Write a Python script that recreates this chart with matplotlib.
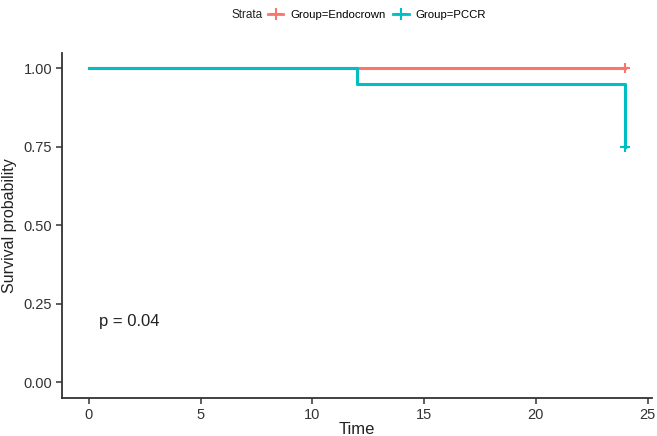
import matplotlib
matplotlib.use("Agg")
import matplotlib.pyplot as plt
from matplotlib.lines import Line2D

plt.rcParams['font.family'] = ['Liberation Sans', 'DejaVu Sans']

# Data
groups = ["Group=Endocrown", "Group=PCCR"]
endo_time = [0, 24]
endo_surv = [1.0, 1.0]
pccr_time = [0, 12, 24]
pccr_surv = [1.0, 0.95, 0.75]
censor_endo_time = [24]
censor_endo_surv = [1.0]
censor_pccr_time = [24]
censor_pccr_surv = [0.75]
xticks = [0, 5, 10, 15, 20, 25]
yticks = [0.00, 0.25, 0.50, 0.75, 1.00]
ytick_labels = ["0.00", "0.25", "0.50", "0.75", "1.00"]
p_text = "p = 0.04"

red = "#F8766D"
cyan = "#00BFC4"

fig = plt.figure(figsize=(6.57, 4.36), dpi=100)
ax = fig.add_axes([0.0944, 0.0872, 0.898, 0.792])

ax.step(endo_time, endo_surv, where='post', color=red, lw=2.2, zorder=2)
ax.step(pccr_time, pccr_surv, where='post', color=cyan, lw=2.2, zorder=3)
ax.plot(censor_endo_time, censor_endo_surv, ls='none', marker='+', ms=7, mew=1.5, color=red, zorder=4)
ax.plot(censor_pccr_time, censor_pccr_surv, ls='none', marker='+', ms=7, mew=1.5, color=cyan, zorder=4)

ax.set_xlim(-1.2, 25.2)
ax.set_ylim(-0.05, 1.05)
ax.set_xticks(xticks)
ax.set_yticks(yticks)
ax.set_yticklabels(ytick_labels)
for s in ['top', 'right']:
    ax.spines[s].set_visible(False)
for s in ['left', 'bottom']:
    ax.spines[s].set_linewidth(1.3)
    ax.spines[s].set_color('#333333')
ax.tick_params(axis='both', direction='out', length=4, width=1.1, color='#333333',
               labelsize=10.5, labelcolor='#333333', pad=3)
ax.set_xlabel("Time", fontsize=12, color='#222222', labelpad=0)
ax.set_ylabel("Survival probability", fontsize=11.5, color='#222222', labelpad=5)

ax.text(0.45, 0.195, p_text, fontsize=12, color='#222222', ha='left', va='center')

handles = [Line2D([0], [0], color=red, lw=2, marker='+', ms=8, mew=1.5),
           Line2D([0], [0], color=cyan, lw=2, marker='+', ms=8, mew=1.5)]
fig.text(0.353, 0.965, "Strata", fontsize=8.5, color='#222222', ha='left', va='center')
fig.legend(handles, groups, loc='center', bbox_to_anchor=(0.574, 0.965), ncol=2,
           frameon=False, fontsize=8.2, handlelength=1.35, handletextpad=0.6,
           columnspacing=0.7, borderpad=0.2)

fig.savefig("out.png", dpi=100)
